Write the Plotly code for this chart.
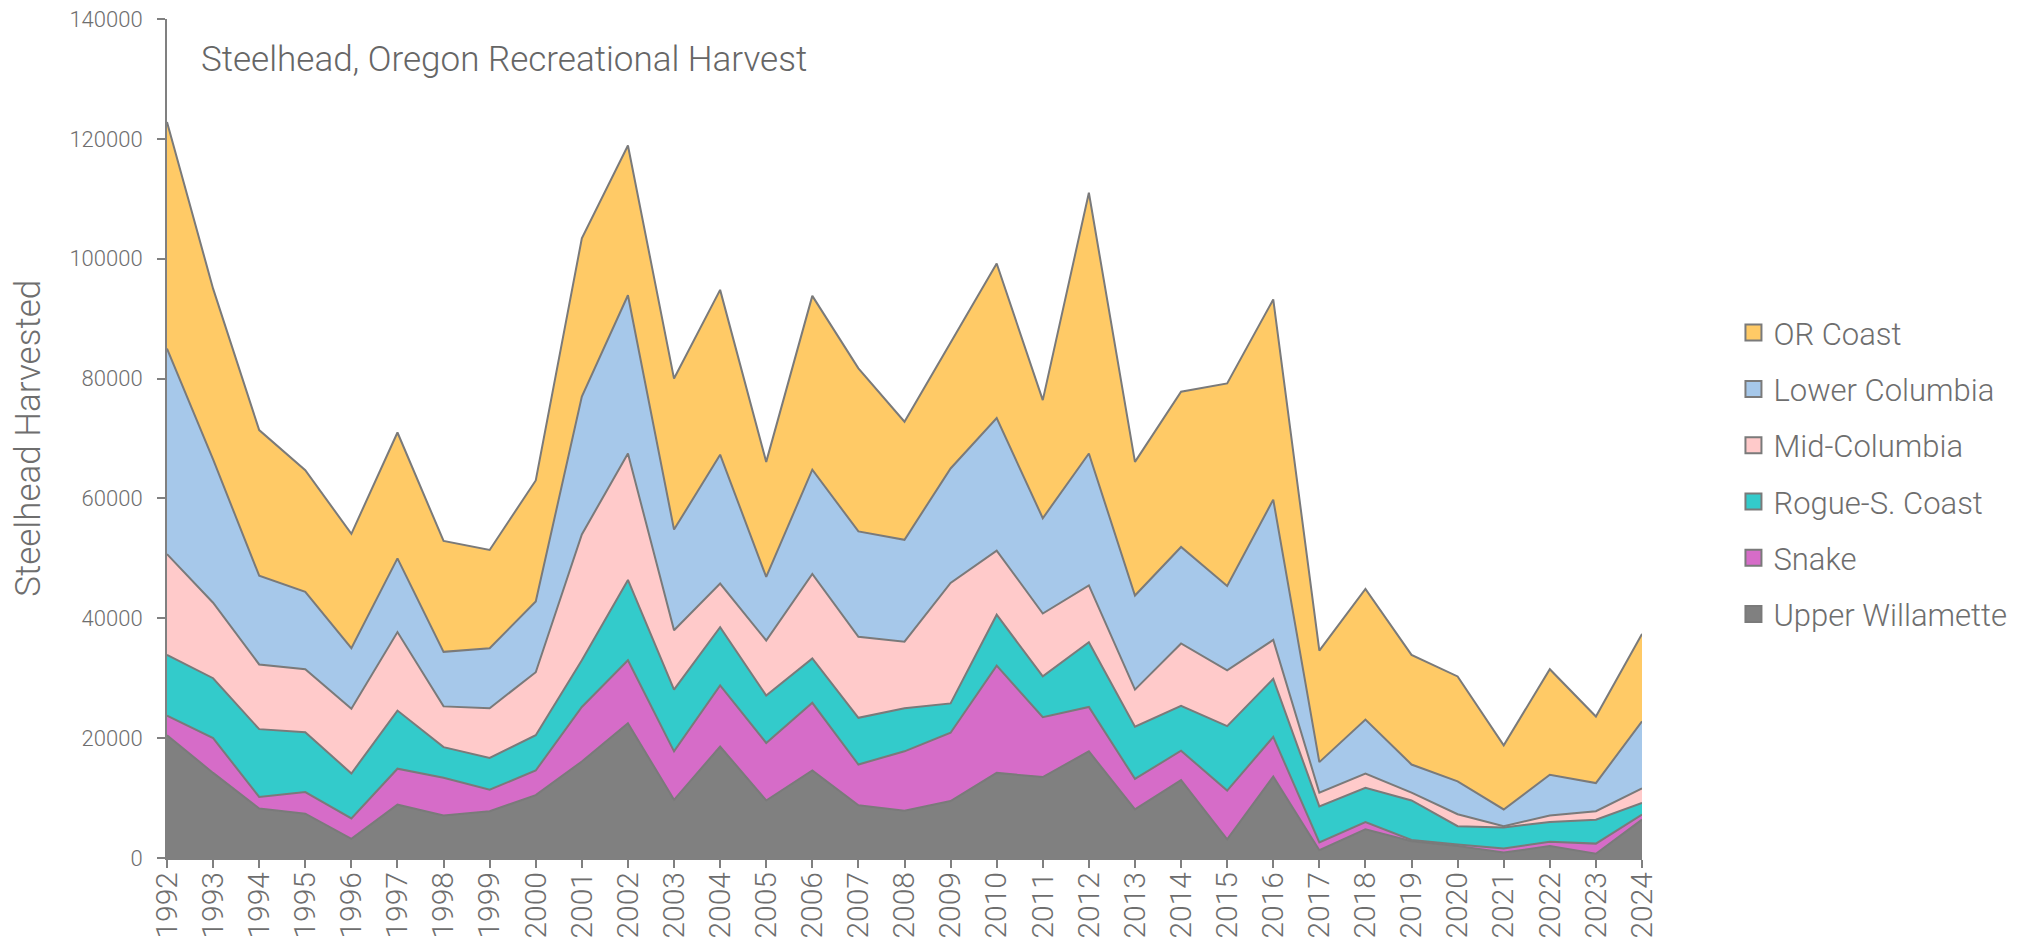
import plotly.graph_objects as go

years = [str(y) for y in range(1992, 2025)]

# Stacked tops (Upper Willamette is the bottom layer)
upper_willamette = [20500, 14200, 8250, 7400, 3200, 8900, 7100, 7800, 10500, 16100, 22500, 9700, 18600, 9600, 14600, 8800, 7900, 9500, 14200, 13500, 17800, 8100, 13000, 3100, 13600, 1300, 4800, 2800, 2000, 900, 2000, 700, 6400]
snake_top = [23750, 20000, 10200, 11000, 6600, 14900, 13400, 11400, 14600, 25200, 33000, 17800, 28800, 19200, 25900, 15600, 17800, 20900, 32100, 23500, 25200, 13200, 17900, 11250, 20200, 2600, 6000, 3000, 2250, 1600, 2700, 2400, 7250]
rogue_top = [33900, 30000, 21500, 21000, 14100, 24600, 18500, 16700, 20500, 33000, 46400, 28100, 38500, 27100, 33300, 23400, 25000, 25800, 40600, 30300, 36000, 21900, 25400, 22000, 29900, 8600, 11700, 9600, 5300, 5100, 6000, 6400, 9200]
mid_top = [50700, 42600, 32300, 31500, 24900, 37700, 25300, 25000, 31000, 54000, 67500, 38000, 45800, 36300, 47400, 36900, 36100, 45900, 51300, 40800, 45500, 28100, 35800, 31300, 36400, 10900, 14100, 10900, 7300, 5300, 7100, 7800, 11600]
lower_top = [85000, 66500, 47100, 44400, 35000, 50000, 34400, 35000, 42800, 77000, 93900, 54800, 67300, 46900, 64800, 54500, 53100, 65000, 73400, 56700, 67500, 43800, 51900, 45400, 59800, 16000, 23100, 15600, 12800, 8100, 13900, 12500, 22800]
coast_top = [122800, 95000, 71400, 64700, 54100, 71000, 52900, 51400, 63000, 103400, 118900, 80000, 94800, 66100, 93800, 81700, 72800, 86000, 99200, 76400, 111000, 66100, 77800, 79200, 93200, 34600, 44900, 33900, 30300, 18800, 31500, 23600, 37400]

def diff(top, below):
    return [t - b for t, b in zip(top, below)]

snake = diff(snake_top, upper_willamette)
rogue = diff(rogue_top, snake_top)
mid_columbia = diff(mid_top, rogue_top)
lower_columbia = diff(lower_top, mid_top)
or_coast = diff(coast_top, lower_top)

series = [
    ("Upper Willamette", upper_willamette, "#808080"),
    ("Snake", snake, "#D66CC8"),
    ("Rogue-S. Coast", rogue, "#33CBCB"),
    ("Mid-Columbia", mid_columbia, "#FFCACA"),
    ("Lower Columbia", lower_columbia, "#A6C8EA"),
    ("OR Coast", or_coast, "#FFCA66"),
]

y_ticks = list(range(0, 140001, 20000))

FONT = "Roboto, Liberation Sans, Arial, sans-serif"
W = 300
TXT = "#6e6e6e"
AX = "#808080"

fig = go.Figure()
for name, vals, col in series:
    fig.add_trace(go.Scatter(
        x=years, y=vals, name=name, mode="lines", stackgroup="one",
        line=dict(color="#7a7a7a", width=2), fillcolor=col,
        showlegend=False, hoverinfo="x+y+name",
    ))

# legend swatches (top to bottom: OR Coast ... Upper Willamette)
for name, vals, col in reversed(series):
    fig.add_trace(go.Scatter(
        x=[None], y=[None], name=name, mode="markers", legendgroup=name,
        marker=dict(symbol="square", size=17, color=col, line=dict(color="#7a7a7a", width=2)),
        showlegend=True,
    ))

fig.update_layout(
    template="none",
    width=2018, height=946,
    margin=dict(l=167, r=376, t=19, b=88, autoexpand=False),
    paper_bgcolor="white", plot_bgcolor="white",
    font=dict(family=FONT, color=TXT, weight=W),
    legend=dict(
        x=1.062, y=0.658, xanchor="left", yanchor="top",
        traceorder="grouped", tracegroupgap=13,
        font=dict(size=31, color=TXT, family=FONT, weight=W),
        itemwidth=30, bgcolor="rgba(0,0,0,0)",
    ),
    xaxis=dict(
        type="category", range=[0, len(years) - 1], automargin=False,
        showline=True, linecolor=AX, linewidth=2,
        ticks="outside", ticklen=8, tickcolor=AX, tickwidth=2,
        tickangle=-90, tickfont=dict(size=30, color=TXT, family=FONT, weight=W),
        ticklabelstandoff=-8,
        showgrid=False, zeroline=False,
    ),
    yaxis=dict(
        range=[0, 140000], tickvals=y_ticks, ticktext=[str(v) for v in y_ticks],
        automargin=False,
        showline=True, linecolor=AX, linewidth=2,
        ticks="outside", ticklen=8, tickcolor=AX, tickwidth=2,
        tickfont=dict(size=22, color=TXT, family=FONT, weight=W),
        ticklabelstandoff=10,
        showgrid=False, zeroline=False,
    ),
    annotations=[
        dict(text="Steelhead, Oregon Recreational Harvest", x=0.022, y=0.952,
             xref="paper", yref="paper", xanchor="left", yanchor="middle",
             showarrow=False, font=dict(size=35, color="#666666", family=FONT, weight=W)),
        dict(text="Steelhead Harvested", x=-0.094, y=0.5, xref="paper", yref="paper",
             xanchor="center", yanchor="middle", textangle=-90, showarrow=False,
             font=dict(size=35, color=TXT, family=FONT, weight=W)),
    ],
)

fig.write_html("out.html", config={"displayModeBar": False},
               post_script="document.body.style.margin='0';document.body.style.overflow='hidden';")
